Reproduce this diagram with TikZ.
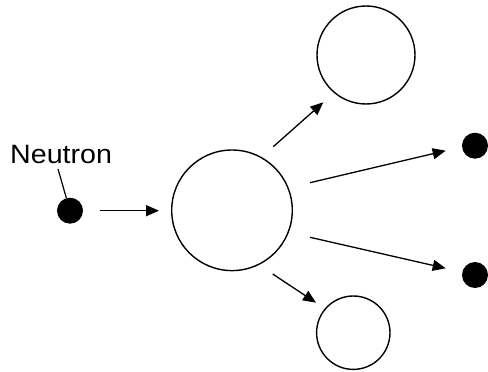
\documentclass[tikz,border=0pt]{standalone}
\usepackage{fontspec}
\setmainfont{Liberation Sans}
\usetikzlibrary{arrows.meta}
\begin{document}
\begin{tikzpicture}[x=1pt,y=-1pt,
  ring/.style={circle,draw,line width=1.4pt,inner sep=0pt},
  dot/.style={circle,fill,inner sep=0pt,minimum size=26pt},
  arr/.style={line width=1.3pt,-{Triangle[length=13pt,width=11pt]}},
  lead/.style={line width=1.2pt}]
\useasboundingbox (0,0) rectangle (488,372);
\node[anchor=base west,inner sep=0pt,font=\fontsize{26.5}{30}\selectfont] (lbl) at (10,163) {\scalebox{1.08}[1]{Neutron}};
\node[dot] (n) at (70,210.7) {};
\node[ring,minimum size=120.6pt] (big) at (232,210.3) {};
\node[ring,minimum size=98pt] (up) at (366,55) {};
\node[ring,minimum size=73.4pt] (low) at (353.3,332.7) {};
\node[dot] (d1) at (475,145.7) {};
\node[dot] (d2) at (475,275) {};
\coordinate (l0) at (58,169);
\coordinate (a0) at (100,210.7);
\coordinate (a1) at (159,210.7);
\coordinate (b0) at (273.3,146.7);
\coordinate (b1) at (323.3,102.3);
\coordinate (c0) at (310,182.7);
\coordinate (c1) at (445.7,150.7);
\coordinate (e0) at (310,237.3);
\coordinate (e1) at (445.7,268.3);
\coordinate (f0) at (272.7,274);
\coordinate (f1) at (316,302.7);
\draw[lead] (l0) -- (n);
\draw[arr] (a0) -- (a1);
\draw[arr] (b0) -- (b1);
\draw[arr] (c0) -- (c1);
\draw[arr] (e0) -- (e1);
\draw[arr] (f0) -- (f1);
\end{tikzpicture}
\end{document}
